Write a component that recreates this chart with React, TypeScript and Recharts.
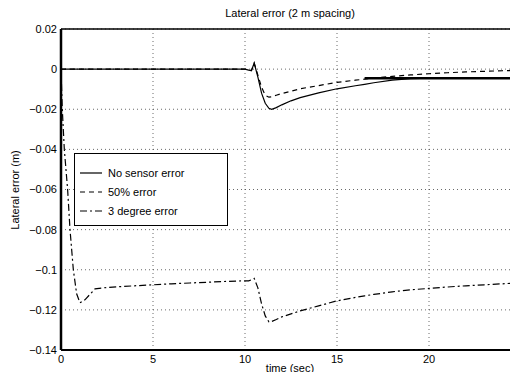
import { CartesianGrid, Line, LineChart, ReferenceLine, XAxis, YAxis } from "recharts"

// time samples (sec)
const time = [
  0, 0.07, 0.18, 0.36, 0.49, 0.67, 0.85, 1.03, 1.3, 1.6, 1.85, 2.3, 3, 4, 5, 6, 7, 8, 9, 10,
  10.2, 10.35, 10.5, 10.7, 10.9, 11.1, 11.3, 11.45, 11.7, 12, 12.5, 13, 14, 15, 16, 16.5, 17,
  18, 19, 20, 21, 22, 23, 24, 25,
]

const noSensorError = [
  0, 0, 0, 0, 0, 0, 0, 0, 0, 0, 0, 0, 0, 0, 0, 0, 0, 0, 0, 0,
  -0.0005, -0.0007, 0.003, -0.004, -0.012, -0.017, -0.0195, -0.02, -0.0192, -0.0178, -0.0158, -0.0142, -0.0118, -0.0098, -0.0083, -0.0076, -0.0068,
  -0.0055, -0.0047, -0.0045, -0.0045, -0.0045, -0.0045, -0.0045, -0.0045,
]

const halfError = [
  0, 0, 0, 0, 0, 0, 0, 0, 0, 0, 0, 0, 0, 0, 0, 0, 0, 0, 0, 0,
  -0.0005, -0.0007, 0.003, -0.003, -0.009, -0.013, -0.014, -0.0138, -0.013, -0.0122, -0.011, -0.0098, -0.0082, -0.0066, -0.0055, -0.005, -0.0045,
  -0.0036, -0.0029, -0.0023, -0.0018, -0.0014, -0.0011, -0.0008, -0.0006,
]

const degreeError = [
  0, -0.02, -0.04, -0.06, -0.08, -0.1, -0.112, -0.1165, -0.115, -0.112, -0.1095, -0.109, -0.1085, -0.108, -0.1075, -0.107, -0.1066, -0.1062, -0.1058, -0.1055,
  -0.1055, -0.105, -0.1043, -0.109, -0.117, -0.123, -0.126, -0.1258, -0.1248, -0.1235, -0.122, -0.1205, -0.118, -0.1155, -0.1138, -0.113, -0.1123,
  -0.111, -0.11, -0.1093, -0.1086, -0.108, -0.1075, -0.107, -0.1065,
]

// short heavy segment drawn over the settled part of the solid curve
const settledFrom = 16.5
const settledValue = -0.0045

const xTicks = [0, 5, 10, 15, 20, 25]
const yTicks = [-0.14, -0.12, -0.1, -0.08, -0.06, -0.04, -0.02, 0, 0.02]

const data = time.map((t, i) => ({
  t,
  none: noSensorError[i],
  half: halfError[i],
  deg: degreeError[i],
  settled: t >= settledFrom ? settledValue : null,
}))

const FONT = "'Liberation Sans', Arial, Helvetica, sans-serif"

const fmtY = (v: number) => String(+v.toFixed(2)).replace("-", "\u2212")

const legendItems = [
  { label: "No sensor error", dash: undefined },
  { label: "50% error", dash: "5 4" },
  { label: "3 degree error", dash: "7 3 2 3" },
]

export default function App() {
  return (
    <div
      style={{
        margin: -8,
        width: 518,
        height: 380,
        overflow: "hidden",
        position: "relative",
        background: "white",
        fontFamily: FONT,
      }}
    >
      <LineChart width={540} height={380} data={data} margin={{ top: 29, right: 19, bottom: 0, left: 0 }}>
        <CartesianGrid stroke="#444" strokeDasharray="1 3" strokeWidth={0.8} />
        <XAxis
          dataKey="t"
          type="number"
          domain={[0, 25]}
          ticks={xTicks}
          interval={0}
          height={30}
          tickLine={false}
          tickSize={0}
          tickMargin={5}
          axisLine={{ stroke: "#000", strokeWidth: 2 }}
          tick={{ fill: "#000", fontSize: 11, fontFamily: FONT }}
        />
        <YAxis
          type="number"
          domain={[-0.14, 0.02]}
          ticks={yTicks}
          interval={0}
          width={61}
          tickLine={false}
          tickSize={0}
          tickMargin={4}
          tickFormatter={fmtY}
          axisLine={{ stroke: "#000", strokeWidth: 2.5 }}
          tick={{ fill: "#000", fontSize: 11, fontFamily: FONT }}
        />
        <ReferenceLine y={0.02} stroke="#000" strokeWidth={1.5} />
        <ReferenceLine x={25} stroke="#000" strokeWidth={1.5} />
        <Line type="linear" dataKey="none" stroke="#000" strokeWidth={1.2} dot={false} isAnimationActive={false} />
        <Line type="linear" dataKey="half" stroke="#000" strokeWidth={1.2} strokeDasharray="5 4" dot={false} isAnimationActive={false} />
        <Line type="linear" dataKey="deg" stroke="#000" strokeWidth={1.2} strokeDasharray="7 3 2 3" dot={false} isAnimationActive={false} />
        <Line type="linear" dataKey="settled" stroke="#000" strokeWidth={2.5} dot={false} connectNulls={false} isAnimationActive={false} />
      </LineChart>

      <div style={{ position: "absolute", left: 0, width: 580, top: 6, textAlign: "center", fontSize: 11, lineHeight: "14px" }}>
        Lateral error (2 m spacing)
      </div>
      <div style={{ position: "absolute", left: 0, width: 580, top: 362, textAlign: "center", fontSize: 11, lineHeight: "13px" }}>
        time (sec)
      </div>
      <div
        style={{
          position: "absolute",
          left: 15,
          top: 190,
          fontSize: 11,
          lineHeight: "14px",
          whiteSpace: "nowrap",
          transform: "translate(-50%, -50%) rotate(-90deg)",
        }}
      >
        Lateral error (m)
      </div>

      <div
        style={{
          position: "absolute",
          left: 74,
          top: 153,
          width: 152,
          height: 71,
          border: "1px solid #000",
          background: "white",
          fontSize: 11,
        }}
      >
        {legendItems.map((it, i) => (
          <div key={it.label} style={{ position: "absolute", left: 5, top: 11 + i * 19, height: 16, display: "flex", alignItems: "center" }}>
            <svg width={22} height={4} style={{ marginRight: 6 }}>
              <line x1={0} y1={2} x2={22} y2={2} stroke="#000" strokeWidth={1.2} strokeDasharray={it.dash} />
            </svg>
            <span>{it.label}</span>
          </div>
        ))}
      </div>
    </div>
  )
}
